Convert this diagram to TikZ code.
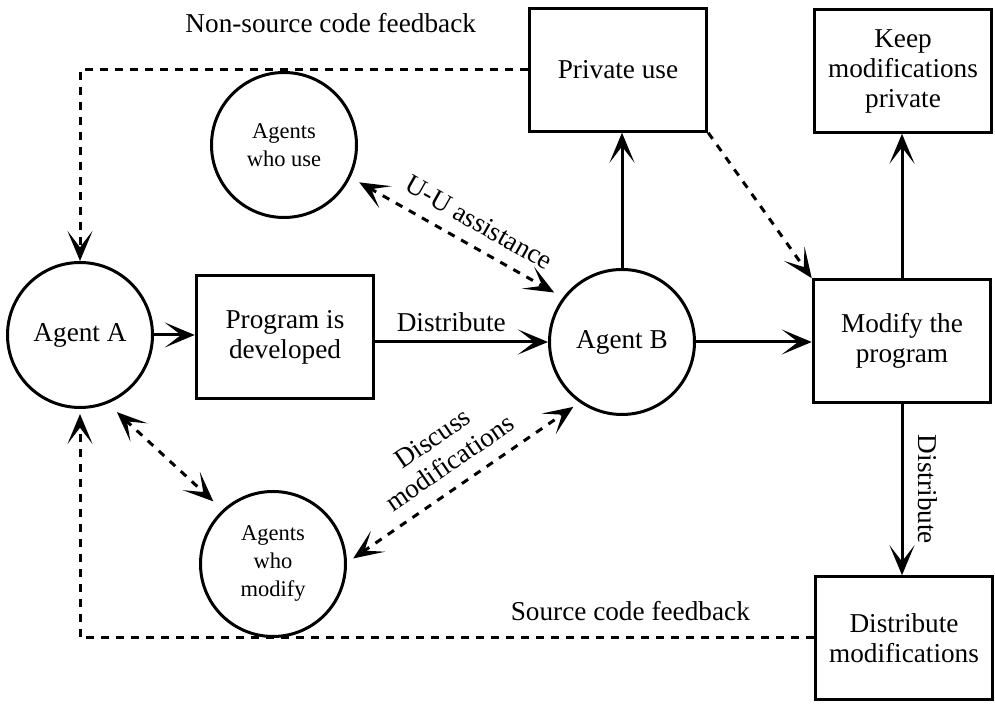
\documentclass[tikz,border=0pt]{standalone}
\usepackage{fontspec}
\setmainfont{Liberation Serif}
\usetikzlibrary{arrows.meta}
\begin{document}
\begin{tikzpicture}[x=0.4pt,y=-0.4pt,line width=1.2pt,
   box/.style={draw,minimum width=71pt,minimum height=49pt,align=center,font=\fontsize{10.9}{12}\selectfont},
   agent/.style={draw,circle,minimum size=58pt,inner sep=0pt,align=center,font=\fontsize{10.9}{12}\selectfont},
   others/.style={agent,font=\fontsize{9}{11.2}\selectfont},
   arr/.style={-{Stealth[length=12pt,width=10pt,inset=6.5pt]}},
   twoway/.style={{Stealth[length=12pt,width=10pt,inset=6.5pt]}-{Stealth[length=12pt,width=10pt,inset=6.5pt]}},
   dots/.style={dash pattern=on 3pt off 3pt},
   lbl/.style={font=\fontsize{10.9}{12}\selectfont}]
   \useasboundingbox (0,0) rectangle (995,704);
   \node[agent] (agentA) at (80,335) {Agent A};
   \node[agent] (agentB) at (622,342) {Agent B};
   \node[others] (users) at (284,145) {Agents\\who use};
   \node[others] (modifiers) at (273,564) {Agents\\who\\modify};
   \node[box] (develop) at (285,337) {Program is\\developed};
   \node[box] (privuse) at (618,70) {Private use};
   \node[box] (keep) at (903,71) {Keep\\modifications\\private};
   \node[box] (change) at (902,341) {Modify the\\program};
   \node[box] (distmod) at (904,638) {Distribute\\modifications};
   \draw[arr] (agentA.east) -- (agentA.east -| develop.west);
   \draw[arr] (develop.east |- agentB.west) -- node[lbl,above,pos=.44] (lbldist) {Distribute} (agentB.west);
   \draw[arr] (agentB.east) -- (agentB.east -| change.west);
   \draw[arr] (agentB.north) -- (agentB.north |- privuse.south);
   \draw[arr] (change.north) -- (change.north |- keep.south);
   \draw[arr] (change.south) -- node[lbl,midway,anchor=south,rotate=-90,inner sep=6pt] (lbldistmod) {Distribute} (change.south |- distmod.north);
   \draw[arr,dots] (privuse.south east) -- (change.north west);
   \draw[arr,dots] (privuse.west) -- node[lbl,pos=.44,above=11pt] (lblnonsrc) {Non-source code feedback} (agentA.north |- privuse.west) -- (agentA.north);
   \draw[arr,dots,shorten >=2pt] (distmod.west) -- node[lbl,pos=.25,above=3pt] (lblsrc) {Source code feedback} (agentA.south |- distmod.west) -- (agentA.south);
   \draw[twoway,dots,shorten <=4pt,shorten >=4pt] (users.-26) -- node[lbl,pos=.55,above=2pt,sloped] (lbluu) {U-U assistance} (agentB.143);
   \draw[twoway,dots,shorten <=3pt,shorten >=3pt] (modifiers.1) -- node[lbl,midway,above=2pt,sloped,align=center] (lbldiscuss) {Discuss\\modifications} (agentB.235);
   \draw[twoway,dots,shorten <=5pt,shorten >=5pt] (agentA.-68) -- (modifiers.133);
\end{tikzpicture}
\end{document}
